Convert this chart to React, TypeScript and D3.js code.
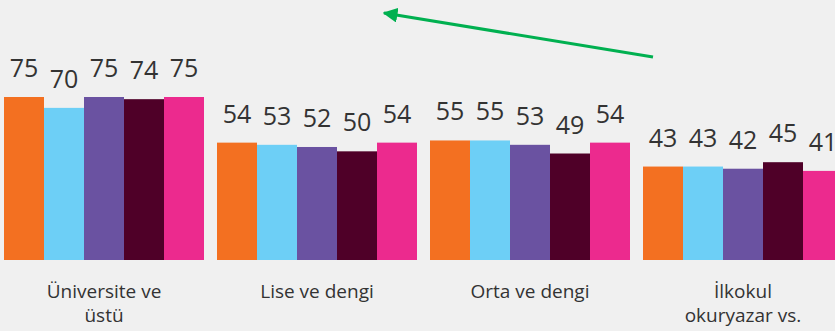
import React from "react";
import * as d3 from "d3";

const categories: string[][] = [
  ["Üniversite ve", "üstü"],
  ["Lise ve dengi"],
  ["Orta ve dengi"],
  ["İlkokul", "okuryazar vs."],
];

const seriesKeys = ["s1", "s2", "s3", "s4", "s5"];
const seriesColors = ["#F37021", "#6DCFF6", "#6A52A1", "#4F0028", "#EC2A8E"];

const values: number[][] = [
  [75, 70, 75, 74, 75],
  [54, 53, 52, 50, 54],
  [55, 55, 53, 49, 54],
  [43, 43, 42, 45, 41],
];

const W = 835;
const H = 331;
const FONT = "'Open Sans', 'DejaVu Sans', sans-serif";

export default function App() {
  const catIds = categories.map((c) => c.join(" "));
  const x0 = d3
    .scaleBand<string>()
    .domain(catIds)
    .range([4, 843])
    .paddingInner(13 / 213)
    .paddingOuter(0);
  const x1 = d3
    .scaleBand<string>()
    .domain(seriesKeys)
    .range([0, x0.bandwidth()])
    .padding(0);
  const y = d3.scaleLinear().domain([0, 75]).range([260, 97]);

  return (
    <svg
      width={W}
      height={H}
      style={{ position: "absolute", left: 0, top: 0, background: "#F0F0F0" }}
    >
      <defs>
        <marker
          id="head"
          viewBox="0 0 10 10"
          refX="9"
          refY="5"
          markerWidth="5"
          markerHeight="5"
          orient="auto"
          markerUnits="strokeWidth"
        >
          <path d="M0,0 L10,5 L0,10 Z" fill="#00B050" />
        </marker>
      </defs>
      <rect width={W} height={H} fill="#F0F0F0" />
      <line
        x1={653}
        y1={57}
        x2={384}
        y2={13}
        stroke="#00B050"
        strokeWidth={3}
        markerEnd="url(#head)"
      />
      {catIds.map((cid, ci) => {
        const gx = x0(cid)!;
        return (
          <g key={cid} transform={`translate(${gx},0)`}>
            {seriesKeys.map((k, si) => {
              const v = values[ci][si];
              const bx = x1(k)!;
              return (
                <g key={k}>
                  <rect
                    x={bx}
                    y={y(v)}
                    width={x1.bandwidth()}
                    height={y(0) - y(v)}
                    fill={seriesColors[si]}
                  />
                  <text
                    x={bx + x1.bandwidth() / 2}
                    y={y(v) - 20}
                    textAnchor="middle"
                    fontFamily={FONT}
                    fontSize={25}
                    fill="#333333"
                  >
                    {v}
                  </text>
                </g>
              );
            })}
            {categories[ci].map((line, li) => (
              <text
                key={li}
                x={x0.bandwidth() / 2}
                y={298 + li * 24}
                textAnchor="middle"
                fontFamily={FONT}
                fontSize={19}
                fill="#333333"
              >
                {line}
              </text>
            ))}
          </g>
        );
      })}
    </svg>
  );
}
